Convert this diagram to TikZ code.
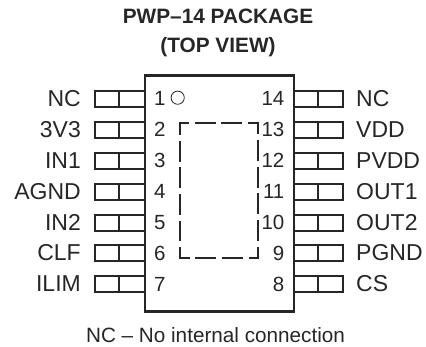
\documentclass[tikz,border=0pt]{standalone}
\usepackage{fontspec}
\setmainfont{Liberation Sans}
\tikzset{
	pinbox/.style={line width=2pt,color=black!85},
	pinname/.style={font=\fontsize{23}{23}\selectfont,color=black!85},
	pinnum/.style={font=\fontsize{20.5}{20.5}\selectfont,color=black!85},
	titletext/.style={font=\fontsize{20.8}{20.8}\bfseries\selectfont,color=black!85}
}
\begin{document}
\begin{tikzpicture}[x=1pt,y=-1pt]
	\useasboundingbox (0,0) rectangle (426,347);
	\node[titletext,anchor=base] (title1) at (218,24) {PWP--14 PACKAGE};
	\node[titletext,anchor=base] (title2) at (218,53) {(TOP VIEW)};
	\foreach \y/\n/\name in {99/1/NC,
							130/2/3V3,
							161/3/IN1,
							192/4/AGND,
							223/5/IN2,
							253.5/6/CLF,
							284.5/7/ILIM}{
		\draw[pinbox] (145,\y-8) -- (95,\y-8) -- (95,\y+8) -- (145,\y+8);
		\draw[pinbox,line width=1.5pt] (119,\y-8) -- (119,\y+8);
		\node[pinname,anchor=base east,inner sep=0pt] (left\n) at (81,\y+7.5) {\name};
		\node[pinnum,anchor=base west,inner sep=0pt] (num\n) at (154,\y+7) {\n};
	}
	\foreach \y/\n/\name in {99/14/NC,
							130/13/VDD,
							161/12/PVDD,
							192/11/OUT1,
							223/10/OUT2,
							253.5/9/PGND,
							284.5/8/CS}{
		\draw[pinbox] (294,\y-8) -- (343,\y-8) -- (343,\y+8) -- (294,\y+8);
		\draw[pinbox,line width=1.5pt] (318,\y-8) -- (318,\y+8);
		\node[pinname,anchor=base west,inner sep=0pt] (right\n) at (356,\y+7.5) {\name};
		\node[pinnum,anchor=base east,inner sep=0pt] (num\n) at (284.5,\y+7) {\n};
	}
	\draw[line width=2.8pt,color=black!85] (145,75.5) rectangle (294,311.5);
	\draw[color=black!85,line width=.8pt] (177.7,97.7) circle (6.6);
	\draw[color=black!85,line width=2pt,dash pattern=on 20.8pt off 5.79pt] (180,135) -- (180,123.3) -- (257.7,123.3) -- (257.7,258.3) -- (180,258.3) -- cycle;
	\node[font=\fontsize{20.7}{20.7}\selectfont,color=black!85,anchor=base] (note) at (215.5,342.7) {NC -- No internal connection};
\end{tikzpicture}
\end{document}
